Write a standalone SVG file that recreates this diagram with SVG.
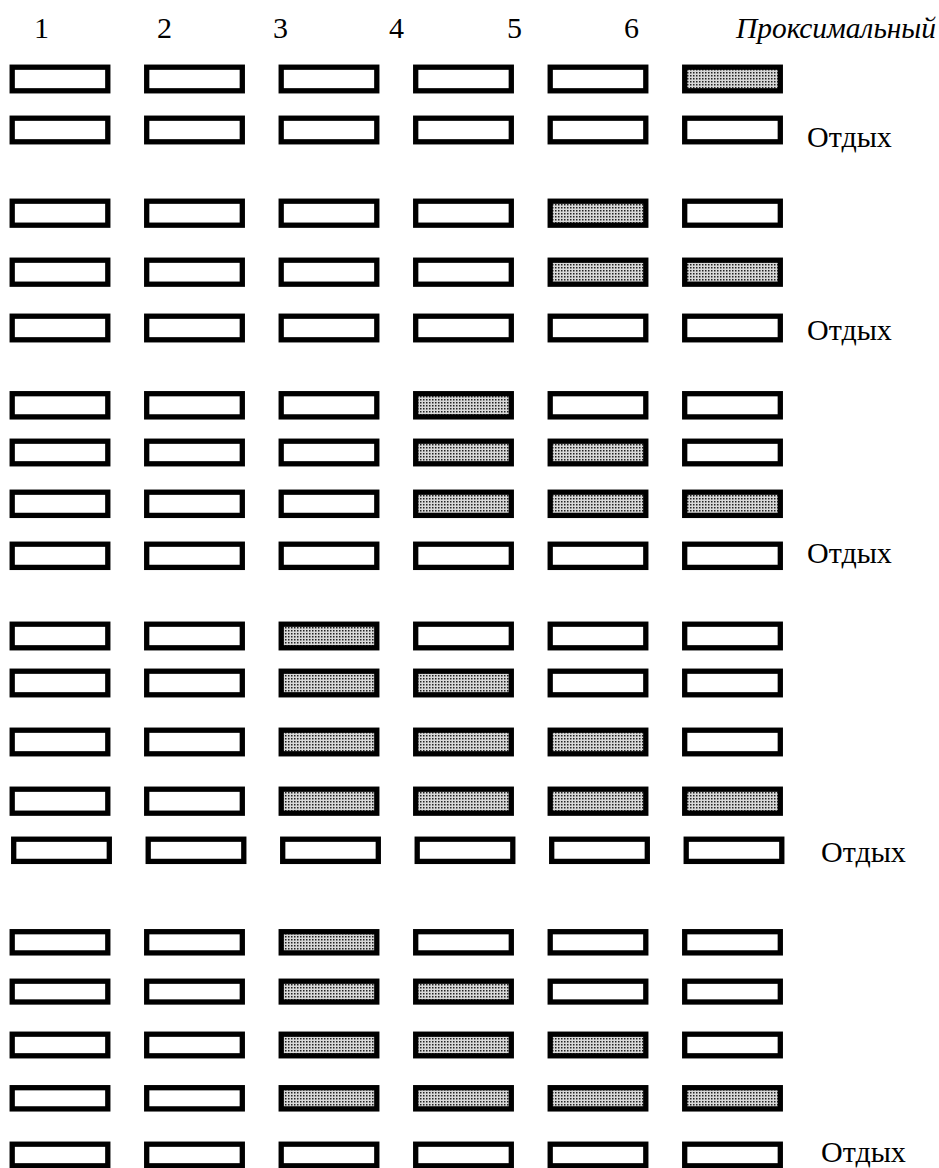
<svg xmlns="http://www.w3.org/2000/svg" width="939" height="1168" viewBox="0 0 939 1168">
<style>
.b{fill:#fff;stroke:#000;stroke-width:5.3}
.f{fill:url(#dots);stroke:#000;stroke-width:5.3}
text{font-family:'Liberation Serif','DejaVu Serif',serif;font-size:30px;fill:#000}
.i{font-style:italic}
</style>
<defs>
<pattern id="dots" width="3" height="3" patternUnits="userSpaceOnUse">
<rect width="3" height="3" fill="#d8d8d8"/>
<rect width="1.5" height="1.5" fill="#222"/>
</pattern>
</defs>
<g id="header">
<text x="34" y="38">1</text>
<text x="157" y="38">2</text>
<text x="273" y="38">3</text>
<text x="389" y="38">4</text>
<text x="507" y="38">5</text>
<text x="624" y="38">6</text>
<text class="i" x="736" y="38" textLength="200" lengthAdjust="spacingAndGlyphs">Проксимальный</text>
</g>
<g id="rest-labels">
<text x="807" y="147">Отдых</text>
<text x="807" y="340">Отдых</text>
<text x="807" y="563">Отдых</text>
<text x="821" y="862">Отдых</text>
<text x="821" y="1162">Отдых</text>
</g>
<g id="row1"><rect class="b" x="12.2" y="67.2" width="95.6" height="23.6"/><rect class="b" x="146.7" y="67.2" width="95.6" height="23.6"/><rect class="b" x="281.2" y="67.2" width="95.6" height="23.6"/><rect class="b" x="415.7" y="67.2" width="95.6" height="23.6"/><rect class="b" x="550.2" y="67.2" width="95.6" height="23.6"/><rect class="f" x="684.7" y="67.2" width="95.6" height="23.6"/></g>
<g id="row2"><rect class="b" x="12.2" y="118.2" width="95.6" height="23.6"/><rect class="b" x="146.7" y="118.2" width="95.6" height="23.6"/><rect class="b" x="281.2" y="118.2" width="95.6" height="23.6"/><rect class="b" x="415.7" y="118.2" width="95.6" height="23.6"/><rect class="b" x="550.2" y="118.2" width="95.6" height="23.6"/><rect class="b" x="684.7" y="118.2" width="95.6" height="23.6"/></g>
<g id="row3"><rect class="b" x="12.2" y="201.2" width="95.6" height="24"/><rect class="b" x="146.7" y="201.2" width="95.6" height="24"/><rect class="b" x="281.2" y="201.2" width="95.6" height="24"/><rect class="b" x="415.7" y="201.2" width="95.6" height="24"/><rect class="f" x="550.2" y="201.2" width="95.6" height="24"/><rect class="b" x="684.7" y="201.2" width="95.6" height="24"/></g>
<g id="row4"><rect class="b" x="12.2" y="260.2" width="95.6" height="24"/><rect class="b" x="146.7" y="260.2" width="95.6" height="24"/><rect class="b" x="281.2" y="260.2" width="95.6" height="24"/><rect class="b" x="415.7" y="260.2" width="95.6" height="24"/><rect class="f" x="550.2" y="260.2" width="95.6" height="24"/><rect class="f" x="684.7" y="260.2" width="95.6" height="24"/></g>
<g id="row5"><rect class="b" x="12.2" y="316.2" width="95.6" height="23.6"/><rect class="b" x="146.7" y="316.2" width="95.6" height="23.6"/><rect class="b" x="281.2" y="316.2" width="95.6" height="23.6"/><rect class="b" x="415.7" y="316.2" width="95.6" height="23.6"/><rect class="b" x="550.2" y="316.2" width="95.6" height="23.6"/><rect class="b" x="684.7" y="316.2" width="95.6" height="23.6"/></g>
<g id="row6"><rect class="b" x="12.2" y="393.7" width="95.6" height="23.2"/><rect class="b" x="146.7" y="393.7" width="95.6" height="23.2"/><rect class="b" x="281.2" y="393.7" width="95.6" height="23.2"/><rect class="f" x="415.7" y="393.7" width="95.6" height="23.2"/><rect class="b" x="550.2" y="393.7" width="95.6" height="23.2"/><rect class="b" x="684.7" y="393.7" width="95.6" height="23.2"/></g>
<g id="row7"><rect class="b" x="12.2" y="441.2" width="95.6" height="22.6"/><rect class="b" x="146.7" y="441.2" width="95.6" height="22.6"/><rect class="b" x="281.2" y="441.2" width="95.6" height="22.6"/><rect class="f" x="415.7" y="441.2" width="95.6" height="22.6"/><rect class="f" x="550.2" y="441.2" width="95.6" height="22.6"/><rect class="b" x="684.7" y="441.2" width="95.6" height="22.6"/></g>
<g id="row8"><rect class="b" x="12.2" y="492.2" width="95.6" height="23.2"/><rect class="b" x="146.7" y="492.2" width="95.6" height="23.2"/><rect class="b" x="281.2" y="492.2" width="95.6" height="23.2"/><rect class="f" x="415.7" y="492.2" width="95.6" height="23.2"/><rect class="f" x="550.2" y="492.2" width="95.6" height="23.2"/><rect class="f" x="684.7" y="492.2" width="95.6" height="23.2"/></g>
<g id="row9"><rect class="b" x="12.2" y="544.2" width="95.6" height="23.2"/><rect class="b" x="146.7" y="544.2" width="95.6" height="23.2"/><rect class="b" x="281.2" y="544.2" width="95.6" height="23.2"/><rect class="b" x="415.7" y="544.2" width="95.6" height="23.2"/><rect class="b" x="550.2" y="544.2" width="95.6" height="23.2"/><rect class="b" x="684.7" y="544.2" width="95.6" height="23.2"/></g>
<g id="row10"><rect class="b" x="12.2" y="624.2" width="95.6" height="23.6"/><rect class="b" x="146.7" y="624.2" width="95.6" height="23.6"/><rect class="f" x="281.2" y="624.2" width="95.6" height="23.6"/><rect class="b" x="415.7" y="624.2" width="95.6" height="23.6"/><rect class="b" x="550.2" y="624.2" width="95.6" height="23.6"/><rect class="b" x="684.7" y="624.2" width="95.6" height="23.6"/></g>
<g id="row11"><rect class="b" x="12.2" y="671.2" width="95.6" height="23.6"/><rect class="b" x="146.7" y="671.2" width="95.6" height="23.6"/><rect class="f" x="281.2" y="671.2" width="95.6" height="23.6"/><rect class="f" x="415.7" y="671.2" width="95.6" height="23.6"/><rect class="b" x="550.2" y="671.2" width="95.6" height="23.6"/><rect class="b" x="684.7" y="671.2" width="95.6" height="23.6"/></g>
<g id="row12"><rect class="b" x="12.2" y="730.2" width="95.6" height="23.6"/><rect class="b" x="146.7" y="730.2" width="95.6" height="23.6"/><rect class="f" x="281.2" y="730.2" width="95.6" height="23.6"/><rect class="f" x="415.7" y="730.2" width="95.6" height="23.6"/><rect class="f" x="550.2" y="730.2" width="95.6" height="23.6"/><rect class="b" x="684.7" y="730.2" width="95.6" height="23.6"/></g>
<g id="row13"><rect class="b" x="12.2" y="789.2" width="95.6" height="24"/><rect class="b" x="146.7" y="789.2" width="95.6" height="24"/><rect class="f" x="281.2" y="789.2" width="95.6" height="24"/><rect class="f" x="415.7" y="789.2" width="95.6" height="24"/><rect class="f" x="550.2" y="789.2" width="95.6" height="24"/><rect class="f" x="684.7" y="789.2" width="95.6" height="24"/></g>
<g id="row14"><rect class="b" x="13.7" y="839.2" width="95.6" height="22.2"/><rect class="b" x="148.2" y="839.2" width="95.6" height="22.2"/><rect class="b" x="282.7" y="839.2" width="95.6" height="22.2"/><rect class="b" x="417.2" y="839.2" width="95.6" height="22.2"/><rect class="b" x="551.7" y="839.2" width="95.6" height="22.2"/><rect class="b" x="686.2" y="839.2" width="95.6" height="22.2"/></g>
<g id="row15"><rect class="b" x="12.2" y="931.7" width="95.6" height="21.2"/><rect class="b" x="146.7" y="931.7" width="95.6" height="21.2"/><rect class="f" x="281.2" y="931.7" width="95.6" height="21.2"/><rect class="b" x="415.7" y="931.7" width="95.6" height="21.2"/><rect class="b" x="550.2" y="931.7" width="95.6" height="21.2"/><rect class="b" x="684.7" y="931.7" width="95.6" height="21.2"/></g>
<g id="row16"><rect class="b" x="12.2" y="981.2" width="95.6" height="20.8"/><rect class="b" x="146.7" y="981.2" width="95.6" height="20.8"/><rect class="f" x="281.2" y="981.2" width="95.6" height="20.8"/><rect class="f" x="415.7" y="981.2" width="95.6" height="20.8"/><rect class="b" x="550.2" y="981.2" width="95.6" height="20.8"/><rect class="b" x="684.7" y="981.2" width="95.6" height="20.8"/></g>
<g id="row17"><rect class="b" x="12.2" y="1034.2" width="95.6" height="21.6"/><rect class="b" x="146.7" y="1034.2" width="95.6" height="21.6"/><rect class="f" x="281.2" y="1034.2" width="95.6" height="21.6"/><rect class="f" x="415.7" y="1034.2" width="95.6" height="21.6"/><rect class="f" x="550.2" y="1034.2" width="95.6" height="21.6"/><rect class="b" x="684.7" y="1034.2" width="95.6" height="21.6"/></g>
<g id="row18"><rect class="b" x="12.2" y="1087.7" width="95.6" height="21.2"/><rect class="b" x="146.7" y="1087.7" width="95.6" height="21.2"/><rect class="f" x="281.2" y="1087.7" width="95.6" height="21.2"/><rect class="f" x="415.7" y="1087.7" width="95.6" height="21.2"/><rect class="f" x="550.2" y="1087.7" width="95.6" height="21.2"/><rect class="f" x="684.7" y="1087.7" width="95.6" height="21.2"/></g>
<g id="row19"><rect class="b" x="12.2" y="1144.2" width="95.6" height="21.6"/><rect class="b" x="146.7" y="1144.2" width="95.6" height="21.6"/><rect class="b" x="281.2" y="1144.2" width="95.6" height="21.6"/><rect class="b" x="415.7" y="1144.2" width="95.6" height="21.6"/><rect class="b" x="550.2" y="1144.2" width="95.6" height="21.6"/><rect class="b" x="684.7" y="1144.2" width="95.6" height="21.6"/></g>
</svg>
